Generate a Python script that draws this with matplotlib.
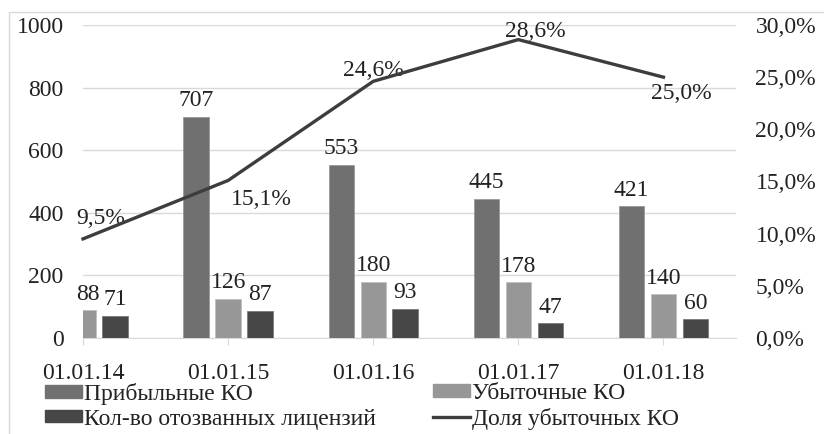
import numpy as np
import matplotlib
matplotlib.use("Agg")
import matplotlib.pyplot as plt
from matplotlib.patches import Rectangle
from matplotlib.lines import Line2D

plt.rcParams['font.family'] = ['Liberation Serif', 'DejaVu Serif']

dates = ["01.01.14", "01.01.15", "01.01.16", "01.01.17", "01.01.18"]
profitable = [np.nan, 707, 553, 445, 421]
unprofitable = [88, 126, 180, 178, 140]
revoked = [71, 87, 93, 47, 60]
loss_share = [9.5, 15.1, 24.6, 28.6, 25.0]

series_names = ["Прибыльные КО", "Убыточные КО",
                "Кол-во отозванных лицензий", "Доля убыточных КО"]

# label offsets (points) for the share labels
share_offsets = [(13, 15), (24, -14), (0, 8), (12, 6), (13, -12)]

c_prof = "#707070"
c_unprof = "#979797"
c_rev = "#474747"
c_line = "#3d3d3d"
grid_c = "#d9d9d9"
txt_c = "#222222"
fs = 17

fig = plt.figure(figsize=(8.24, 4.34), dpi=100)
ax = fig.add_axes([83 / 824, 1 - 338 / 434, (736 - 83) / 824, (338 - 25) / 434])
ax2 = ax.twinx()

x = np.arange(len(dates))
w = 0.175
off = 0.22

ax.set_xlim(0, 4.5)
ax.set_ylim(0, 1000)
ax2.set_ylim(0, 30)

b1 = ax.bar(x - off, profitable, w, color=c_prof, edgecolor="#9a9a9a", linewidth=0.6, zorder=3)
b2 = ax.bar(x, unprofitable, w, color=c_unprof, edgecolor="#c0c0c0", linewidth=0.6, zorder=3)
b3 = ax.bar(x + off, revoked, w, color=c_rev, edgecolor="#7a7a7a", linewidth=0.6, zorder=3)

for bars, vals in ((b1, profitable), (b2, unprofitable), (b3, revoked)):
    for rect, v in zip(bars, vals):
        if np.isnan(v):
            continue
        cx = rect.get_x() + rect.get_width() / 2
        cx = max(cx, 0.035)
        ax.annotate(f"{v:g}", (cx, v), xytext=(0, 4), textcoords="offset points",
                    ha="center", va="bottom", fontsize=fs, color=txt_c,
                    annotation_clip=False, zorder=5)

ax2.plot(x, loss_share, color=c_line, linewidth=2.4, zorder=4, clip_on=False)
for xi, v, (dx, dy) in zip(x, loss_share, share_offsets):
    ax2.annotate(f"{v:.1f}%".replace(".", ","), (xi, v), xytext=(dx, dy),
                 textcoords="offset points", ha="center", va="center",
                 fontsize=fs, color=txt_c, annotation_clip=False)

ax.set_yticks(np.arange(0, 1001, 200))
ax2.set_yticks(np.arange(0, 30.1, 5))
ax2.set_yticklabels([f"{t:.1f}%".replace(".", ",") for t in np.arange(0, 30.1, 5)])
ax.set_xticks(x)
ax.set_xticklabels(dates)

ax.yaxis.grid(True, color=grid_c, linewidth=1)
ax.set_axisbelow(True)
for a in (ax, ax2):
    for s in a.spines.values():
        s.set_visible(False)
ax.spines["bottom"].set_visible(True)
ax.spines["bottom"].set_color(grid_c)
ax.tick_params(axis="y", length=0, pad=14, labelsize=fs, labelcolor=txt_c)
ax2.tick_params(axis="y", length=0, pad=14, labelsize=fs, labelcolor=txt_c)
ax.tick_params(axis="x", length=5, color=grid_c, pad=13, labelsize=fs, labelcolor=txt_c)

# outer chart frame
fig.patches.append(Rectangle((9 / 824, -0.1), 1.2, 1.1 - 12 / 434, transform=fig.transFigure,
                             fill=False, edgecolor="#d9d9d9", linewidth=1))

leg_kw = dict(loc="upper left", frameon=False, fontsize=fs, handlelength=1.55,
              handleheight=0.45, handletextpad=0.1, labelspacing=0.15, borderpad=0,
              borderaxespad=0, labelcolor=txt_c)
left_handles = [Rectangle((0, 0), 1, 1, color=c_prof), Rectangle((0, 0), 1, 1, color=c_rev)]
right_handles = [Rectangle((0, 0), 1, 1, color=c_unprof),
                 Line2D([], [], color=c_line, linewidth=2.4)]
fig.legend(left_handles, [series_names[0], series_names[2]],
           bbox_to_anchor=(45 / 824, 1 - 383 / 434), **leg_kw)
fig.legend(right_handles, [series_names[1], series_names[3]],
           bbox_to_anchor=(433 / 824, 1 - 383 / 434), **leg_kw)

fig.savefig("out.png", dpi=100)
